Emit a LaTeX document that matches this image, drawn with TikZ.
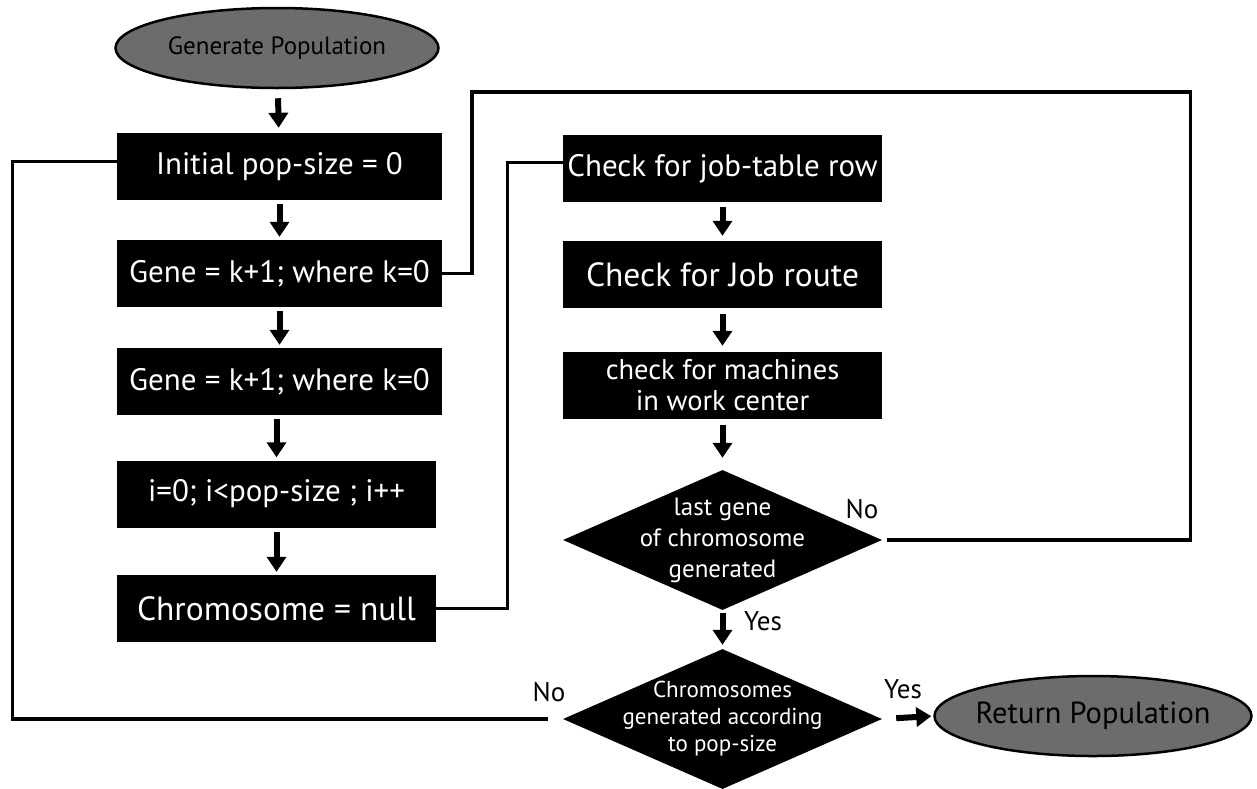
\documentclass[tikz,border=0pt]{standalone}
\usepackage{fontspec}
\setmainfont{PT Sans}
\usetikzlibrary{shapes.geometric,arrows.meta}
\definecolor{termgray}{RGB}{108,108,108}
\begin{document}
\begin{tikzpicture}[x=1pt,y=-1pt,
  box/.style={rectangle,fill=black,text=white,minimum height=67pt,inner sep=0pt,align=center},
  term/.style={ellipse,draw=black,line width=2.5pt,fill=termgray,inner sep=0pt},
  dec/.style={diamond,fill=black,inner sep=0pt,minimum width=319pt,minimum height=140pt},
  dtext/.style={text=white,align=center,font=\fontsize{25}{31}\selectfont},
  flow/.style={line width=6pt,-{Triangle[width=19pt,length=15pt]},shorten <=4pt,shorten >=3pt},
  link/.style={line width=3.2pt},
  lbl/.style={font=\fontsize{27}{30}\selectfont}
]
\useasboundingbox (0,0) rectangle (1257,788);

% start and end terminals
\node[term,minimum width=323pt,minimum height=80pt] (start) at (277,48) {};
\node[font=\fontsize{25}{30}\selectfont] (startt) at (start) {Generate Population};
\node[term,minimum width=317pt,minimum height=80pt] (ret) at (1093,716) {};
\node[font=\fontsize{30.5}{34}\selectfont] (rett) at (ret) {Return Population};

% left column
\node[box,minimum width=325pt,font=\fontsize{31}{34}\selectfont] (b1) at (279.5,166.5) {Initial pop-size = 0};
\node[box,minimum width=325pt,font=\fontsize{31}{34}\selectfont] (b2) at (279.5,273.5) {Gene = k+1; where k=0};
\node[box,minimum width=325pt,font=\fontsize{31}{34}\selectfont] (b3) at (279.5,381.5) {Gene = k+1; where k=0};
\node[box,minimum width=319pt,font=\fontsize{31}{34}\selectfont] (b4) at (276.5,494) {i=0; i<pop-size ; i++};
\node[box,minimum width=319pt,font=\fontsize{33.5}{36}\selectfont] (b5) at (276.5,608.5) {Chromosome = null};

% right column
\node[box,minimum width=319pt,font=\fontsize{31}{34}\selectfont] (c1) at (722.5,168.5) {Check for job-table row};
\node[box,minimum width=319pt,font=\fontsize{33.5}{36}\selectfont] (c2) at (722.5,274.5) {Check for Job route};
\node[box,minimum width=319pt,font=\fontsize{28.5}{31}\selectfont] (c3) at (722.5,385.5) {check for machines\\in work center};
\node[dec] (d1) at (722.5,540) {};
\node[dtext] (d1t) at (d1) {last gene\\of chromosome\\generated};
\node[dec] (d2) at (722.5,719) {};
\node[dtext,font=\fontsize{23}{27}\selectfont] (d2t) at (d2) {Chromosomes\\generated according\\to pop-size};

% straight flow arrows
\draw[flow,shorten <=9pt,shorten >=5pt] (start) -- (b1);
\draw[flow] (b1) -- (b2);
\draw[flow] (b2) -- (b3);
\draw[flow] (b3.south -| b4) -- (b4);
\draw[flow] (b4) -- (b5);
\draw[flow,shorten <=5pt,shorten >=5pt] (c1) -- (c2);
\draw[flow,shorten <=6pt,shorten >=6pt] (c2) -- (c3);
\draw[flow,shorten <=6pt,shorten >=12pt] (c3) -- (d1);
\draw[flow,shorten <=3pt,shorten >=4pt] (d1) -- (d2);
\draw[flow,shorten <=14pt,shorten >=2pt] (d2.east) -- (ret.west);

% loop-back connectors
\draw[link] (b2.east) -| (472,92) -| ([xshift=308pt]d1.east) -- ([xshift=5pt]d1.east);
\draw[link] (b5.east) -- ++(71,0) |- ([yshift=6pt]c1.west);
\draw[link] ([yshift=5pt]b1.west) -- ++(-104,0) |- ([xshift=-15pt]d2.west);

% branch labels
\node[lbl] (no1) at (862,509) {No};
\node[lbl] (yes1) at (763,621) {Yes};
\node[lbl] (no2) at (549,692) {No};
\node[lbl] (yes2) at (903,689) {Yes};
\end{tikzpicture}
\end{document}
